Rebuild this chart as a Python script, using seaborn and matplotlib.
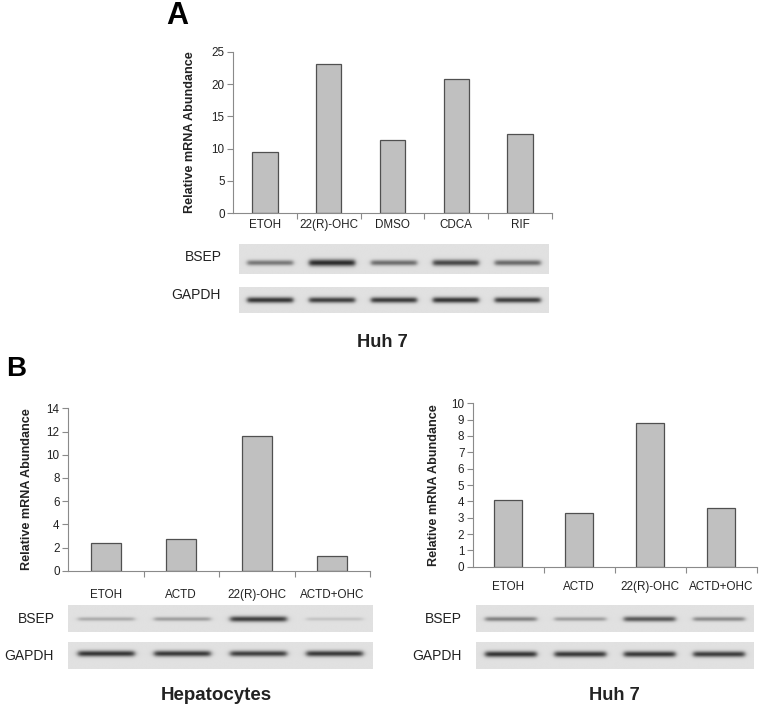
import numpy as np
import pandas as pd
import matplotlib
matplotlib.use("Agg")
import matplotlib.pyplot as plt
import seaborn as sns

# ---------------- data ----------------
cats_a = ["ETOH", "22(R)-OHC", "DMSO", "CDCA", "RIF"]
vals_a = [9.4, 23.2, 11.3, 20.8, 12.2]
yticks_a = [0, 5, 10, 15, 20, 25]

cats_b = ["ETOH", "ACTD", "22(R)-OHC", "ACTD+OHC"]
vals_b_hep = [2.4, 2.7, 11.6, 1.3]
yticks_b_hep = [0, 2, 4, 6, 8, 10, 12, 14]
vals_b_huh = [4.08, 3.27, 8.8, 3.6]
yticks_b_huh = [0, 1, 2, 3, 4, 5, 6, 7, 8, 9, 10]

# band darkness (0..1) read from the blots
bsep_a = [0.55, 0.95, 0.6, 0.8, 0.62]
gapdh_a = [0.9, 0.85, 0.87, 0.9, 0.85]
bsep_b_hep = [0.28, 0.35, 0.85, 0.15]
gapdh_b_hep = [0.9, 0.88, 0.85, 0.88]
bsep_b_huh = [0.5, 0.35, 0.72, 0.45]
gapdh_b_huh = [0.9, 0.88, 0.88, 0.86]

ylabel = "Relative mRNA Abundance"

# ---------------- style ----------------
sns.set_style("white")
plt.rcParams["font.family"] = ["Liberation Sans", "DejaVu Sans"]

W, H = 762, 712
fig = plt.figure(figsize=(W / 100, H / 100), dpi=100)

BAR = "#c0c0c0"
EDGE = "#505050"
AXC = "#8a8a8a"
TXT = "#222222"


def box(x0, x1, y0, y1):
    return [x0 / W, 1 - y1 / H, (x1 - x0) / W, (y1 - y0) / H]


def bar_panel(rect, cats, vals, yticks, xpad, ylab_off):
    ax = fig.add_axes(box(*rect))
    df = pd.DataFrame({"cat": cats, "val": vals})
    sns.barplot(data=df, x="cat", y="val", ax=ax, color=BAR, saturation=1,
                width=0.4, edgecolor=EDGE, linewidth=0.9)
    n = len(cats)
    ax.set_xlim(-0.5, n - 0.5)
    ax.set_ylim(yticks[0], yticks[-1])
    ax.set_yticks(yticks)
    ax.set_yticklabels([str(t) for t in yticks], fontsize=8.4, color=TXT)
    ax.set_xticks(range(n))
    ax.set_xticklabels(cats, fontsize=8.4, color=TXT)
    ax.set_xticks(np.arange(0.5, n), minor=True)
    ax.tick_params(axis="x", which="major", length=0, pad=xpad)
    ax.tick_params(axis="x", which="minor", length=4, color=AXC, width=0.8,
                   direction="out", bottom=True)
    ax.tick_params(axis="y", length=4, color=AXC, width=0.8, direction="out",
                   pad=2, left=True)
    for s in ["top", "right"]:
        ax.spines[s].set_visible(False)
    for s in ["left", "bottom"]:
        ax.spines[s].set_color(AXC)
        ax.spines[s].set_linewidth(0.8)
    ax.set_xlabel("")
    ax.set_ylabel(ylabel, fontsize=9.1, fontweight="bold", color=TXT)
    wpx = rect[1] - rect[0]
    ax.yaxis.set_label_coords(-ylab_off / wpx, 0.5)
    ax.grid(False)
    return ax


def gel(rect, dark, band_y):
    ax = fig.add_axes(box(*rect))
    n = len(dark)
    xs = np.linspace(-0.5, n - 0.5, 500)
    ys = np.linspace(0, 1, 80)
    X, Y = np.meshgrid(xs, ys)
    img = np.full(X.shape, 0.88)
    for i, d in enumerate(dark):
        h = 1.0 / (1.0 + np.exp((np.abs(X - i) - 0.37) / 0.02))
        sig = 0.04 + 0.04 * d
        v = np.exp(-0.5 * ((Y - band_y) / sig) ** 2)
        img -= 0.75 * d * h * v
    ax.imshow(img, cmap="gray", vmin=0, vmax=1, aspect="auto",
              extent=(-0.5, n - 0.5, 1, 0), interpolation="bilinear")
    ax.set_axis_off()
    return ax


# ---------------- panel A ----------------
bar_panel((233, 552, 52, 213), cats_a, vals_a, yticks_a, xpad=4, ylab_off=37)
gel((239, 549, 244, 274), bsep_a, 0.64)
gel((239, 549, 287, 313), gapdh_a, 0.52)
fig.text(203.5 / W, 1 - 257 / H, "BSEP", ha="center", va="center", fontsize=10, color=TXT)
fig.text(196 / W, 1 - 295 / H, "GAPDH", ha="center", va="center", fontsize=10, color=TXT)
fig.text(382 / W, 1 - 343 / H, "Huh 7", ha="center", va="center", fontsize=13.2, fontweight="bold", color=TXT)
fig.text(177.7 / W, 1 - 16 / H, "A", ha="center", va="center", fontsize=22, fontweight="bold", color="black")

# ---------------- panel B ----------------
fig.text(15.8 / W, 1 - 368.5 / H, "B", ha="center", va="center", fontsize=20, fontweight="bold", color="black")

bar_panel((68, 370, 408.3, 570.7), cats_b, vals_b_hep, yticks_b_hep, xpad=13, ylab_off=35)
gel((67.7, 372.7, 605, 631.7), bsep_b_hep, 0.52)
gel((67.7, 372.7, 641.7, 669), gapdh_b_hep, 0.45)
fig.text(36 / W, 1 - 619 / H, "BSEP", ha="center", va="center", fontsize=10, color=TXT)
fig.text(29 / W, 1 - 656.5 / H, "GAPDH", ha="center", va="center", fontsize=10, color=TXT)
fig.text(216.7 / W, 1 - 696 / H, "Hepatocytes", ha="center", va="center", fontsize=13.5, fontweight="bold", color=TXT)

bar_panel((472.7, 756.7, 403.3, 566.7), cats_b, vals_b_huh, yticks_b_huh, xpad=10, ylab_off=33)
gel((475.7, 752.7, 605, 631.7), bsep_b_huh, 0.52)
gel((475.7, 752.7, 641.7, 669), gapdh_b_huh, 0.47)
fig.text(443.8 / W, 1 - 619 / H, "BSEP", ha="center", va="center", fontsize=10, color=TXT)
fig.text(436.7 / W, 1 - 656.5 / H, "GAPDH", ha="center", va="center", fontsize=10, color=TXT)
fig.text(614 / W, 1 - 696 / H, "Huh 7", ha="center", va="center", fontsize=13.2, fontweight="bold", color=TXT)

fig.savefig("out.png", dpi=100, facecolor="white")
